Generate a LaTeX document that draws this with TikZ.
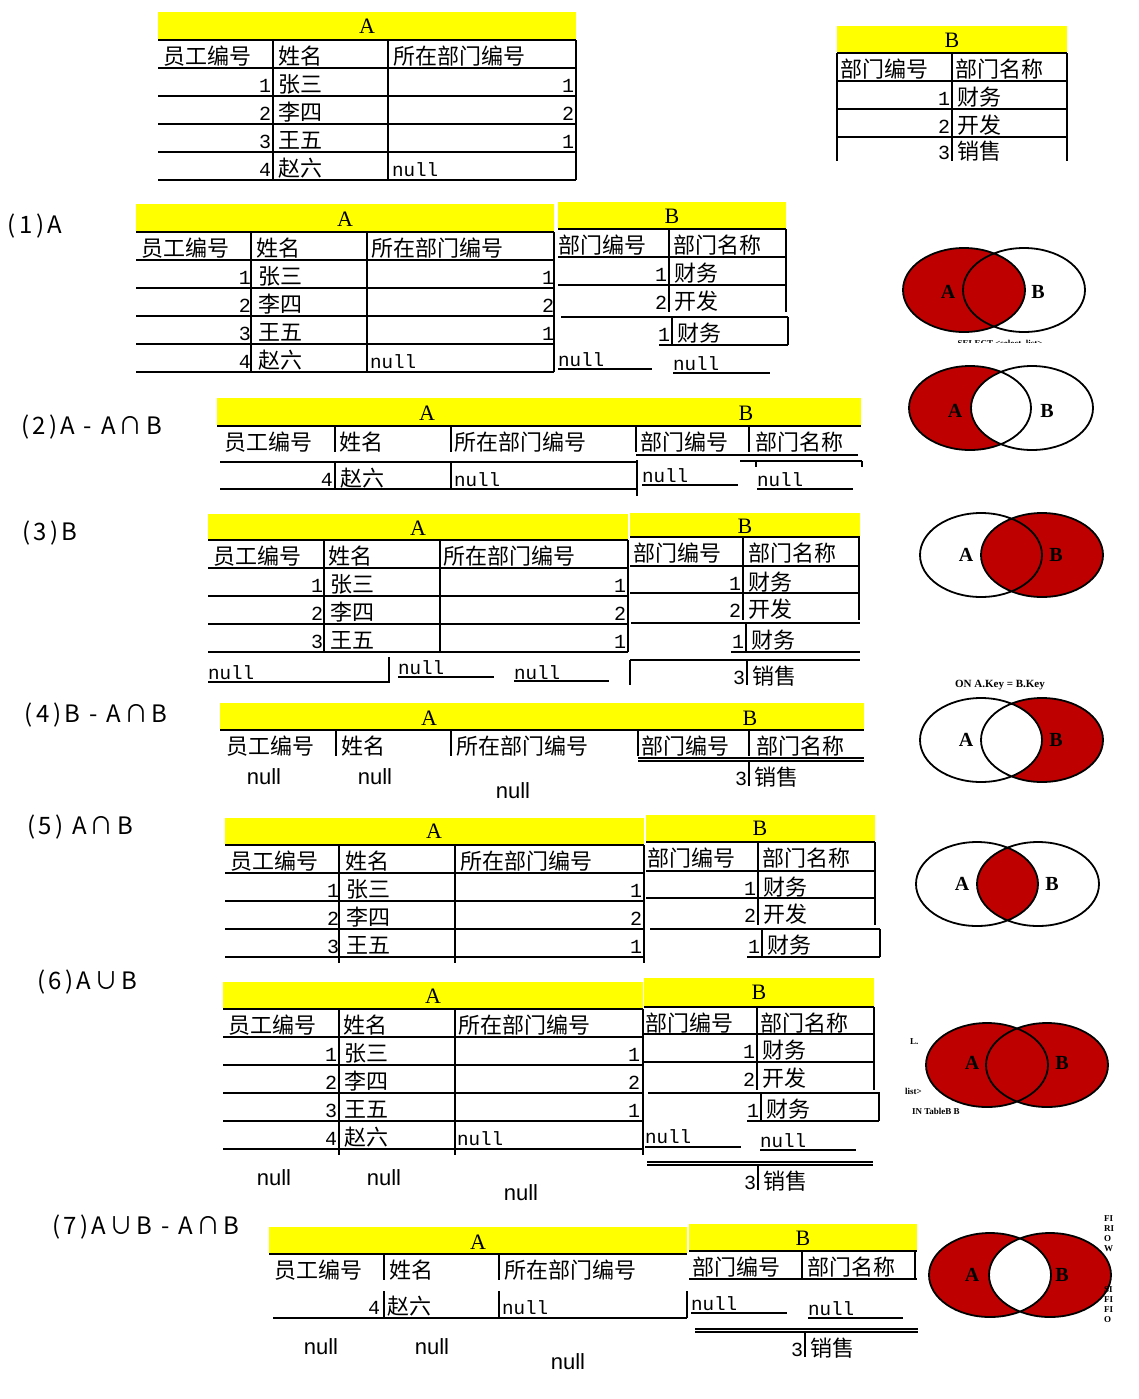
\documentclass[tikz,border=0pt]{standalone}
\usepackage{fontspec}
\setmainfont{Liberation Serif}
\newfontfamily\cjk{Noto Sans CJK SC}
\newfontfamily\lblfont[LetterSpace=14]{Noto Sans CJK SC}
\newfontfamily\monofnt{Liberation Mono}
\newfontfamily\sansfnt{Liberation Sans}
\definecolor{cellyellow}{RGB}{255,255,0}
\definecolor{vennred}{RGB}{190,0,0}

% header texts and rows of the two tables (pixel units, y downwards)
\newcommand\headA[3]{%
  \node[zhl] (#1h1) at (#2+5,#3+24) {员工编号};
  \node[zhl] (#1h2) at (#2+120,#3+24) {姓名};
  \node[zhl] (#1h3) at (#2+235,#3+24) {所在部门编号};}
\newcommand\headB[3]{%
  \node[zhl] (#1h4) at (#2+3,#3+24) {部门编号};
  \node[zhl] (#1h5) at (#2+118,#3+24) {部门名称};}
\newcommand\rowA[6]{%
  \node[numr] (#1n) at (#2+113,#3+24) {#4};
  \node[zhl] (#1w) at (#2+120,#3+24) {#5};
  \node[numr] (#1d) at (#2+416,#3+24) {#6};}
\newcommand\rowB[5]{%
  \node[numr] (#1n) at (#2-2,#3+24) {#4};
  \node[zhl] (#1w) at (#2+5,#3+24) {#5};}

\begin{document}
\begin{tikzpicture}[
  x=0.5pt,y=-0.5pt,
  every node/.style={inner sep=0pt,outer sep=0pt},
  yband/.style={fill=cellyellow},
  tline/.style={line width=0.9pt,black},
  ttl/.style={font=\fontsize{11}{12}\selectfont},
  zhl/.style={anchor=base west,font=\cjk\fontsize{11}{11}\selectfont},
  numr/.style={anchor=base east,font=\monofnt\fontsize{10}{10}\selectfont},
  nul/.style={anchor=base west,font=\monofnt\fontsize{9.6}{10}\selectfont},
  loose/.style={font=\sansfnt\fontsize{11}{11}\selectfont},
  lbl/.style={anchor=west,font=\lblfont\fontsize{12}{12}\selectfont},
  vfill/.style={fill=vennred},
  vline/.style={draw=black,line width=0.9pt},
  vsz/.style={x radius=30.5pt,y radius=21pt},
  vtxt/.style={font=\bfseries\fontsize{10}{10}\selectfont},
  frag/.style={font=\bfseries\fontsize{4.5}{5}\selectfont}
]
\path[use as bounding box] (0,0) rectangle (1139,1399);
\fill[white] (0,0) rectangle (1139,1399);

% tables A and B
\fill[yband] (158,12) rectangle (576,40);
\node[ttl] (t0A) at (367,26) {A};
\headA{t0}{158}{40}
\rowA{t0r1}{158}{68}{1}{张三}{1}
\rowA{t0r2}{158}{96}{2}{李四}{2}
\rowA{t0r3}{158}{124}{3}{王五}{1}
\rowA{t0r4}{158}{152}{4}{赵六}{}
\node[nul] (t0x) at (392,176) {null};
\foreach \y in {40,68,96,124,152,180} \draw[tline] (158,\y) -- (576,\y);
\foreach \x in {273,388,576} \draw[tline] (\x,40) -- (\x,180);

\fill[yband] (837,26) rectangle (1067,53);
\node[ttl] (t0B) at (952,40) {B};
\headB{t0}{837}{53}
\rowB{t0s1}{952}{81}{1}{财务}
\rowB{t0s2}{952}{109}{2}{开发}
\rowB{t0s3}{952}{135}{3}{销售}
\foreach \y in {53,81,109,137} \draw[tline] (837,\y) -- (1067,\y);
\foreach \x in {837,952,1067} \draw[tline] (\x,53) -- (\x,161);

% (1) A
\node[lbl] (l1) at (8,226) {(1)A};
\fill[yband] (136,204) rectangle (554,232);
\node[ttl] (s1A) at (345,219) {A};
\headA{s1}{136}{232}
\rowA{s1r1}{138}{260}{1}{张三}{1}
\rowA{s1r2}{138}{288}{2}{李四}{2}
\rowA{s1r3}{138}{316}{3}{王五}{1}
\rowA{s1r4}{138}{344}{4}{赵六}{}
\node[nul] (s1x0) at (370,368) {null};
\foreach \y in {232,260,288,316,344,372} \draw[tline] (136,\y) -- (554,\y);
\foreach \x in {251,367,554} \draw[tline] (\x,232) -- (\x,372);
\fill[yband] (558,202) rectangle (786,229);
\node[ttl] (s1B) at (672,216) {B};
\headB{s1}{555}{229}
\rowB{s1r5}{669}{257}{1}{财务}
\rowB{s1r6}{669}{285}{2}{开发}
\rowB{s1r7}{672}{317}{1}{财务}
\foreach \y in {229,257,285} \draw[tline] (558,\y) -- (786,\y);
\foreach \x in {669,786} \draw[tline] (\x,229) -- (\x,312);
\draw[tline] (561,317) -- (788,317) (659,345) -- (788,345);
\foreach \x in {672,788} \draw[tline] (\x,317) -- (\x,345);
\node[nul] (s1x1) at (558,366) {null};
\node[nul] (s1x2) at (673,370) {null};
\draw[tline] (558,369) -- (652,369) (673,373) -- (770,373);

\fill[vfill] (964,290) circle[vsz];
\draw[vline] (964,290) circle[vsz] (1024,290) circle[vsz];
\node[vtxt] (v1a) at (948,292) {A};
\node[vtxt] (v1b) at (1038,292) {B};
\begin{scope}
  \clip (900,334) rectangle (1100,342);
  \node[frag] (v1s) at (1000,344) {SELECT <select\_list>};
\end{scope}

% (2) A - A and B
\node[lbl] (l2) at (21,427) {(2)A - A∩B};
\fill[yband] (217,398) rectangle (861,426);
\node[ttl] (s2A) at (427,413) {A};
\node[ttl] (s2B) at (746,413) {B};
\draw[tline] (217,426) -- (861,426);
\headA{s2}{219}{426}
\headB{s2}{637}{426}
\foreach \x in {335,451,636,749} \draw[tline] (\x,426) -- (\x,452);
\draw[tline] (636,455) -- (858,455);
\rowA{s2r4}{220}{462}{4}{赵六}{}
\node[nul] (s2x0) at (454,486) {null};
\draw[tline] (220,462) -- (637,462) (220,489) -- (637,489);
\foreach \x in {335,451} \draw[tline] (\x,462) -- (\x,489);
\draw[tline] (637,460) -- (637,496);
\draw[tline] (740,461) -- (862,461);
\foreach \x in {756,862} \draw[tline] (\x,461) -- (\x,467);
\node[nul] (s2x1) at (642,482) {null};
\node[nul] (s2x2) at (757,486) {null};
\draw[tline] (642,485) -- (738,485) (757,489) -- (853,489);

\fill[vfill] (970,408) circle[vsz];
\fill[white] (1032,408) circle[vsz];
\draw[vline] (970,408) circle[vsz] (1032,408) circle[vsz];
\node[vtxt] (v2a) at (955,411) {A};
\node[vtxt] (v2b) at (1047,411) {B};

% (3) B
\node[lbl] (l3) at (22,533) {(3)B};
\fill[yband] (208,514) rectangle (628,540);
\node[ttl] (s3A) at (418,528) {A};
\headA{s3}{208}{540}
\rowA{s3r1}{210}{568}{1}{张三}{1}
\rowA{s3r2}{210}{596}{2}{李四}{2}
\rowA{s3r3}{210}{624}{3}{王五}{1}
\foreach \y in {540,568,596,624,652} \draw[tline] (208,\y) -- (628,\y);
\foreach \x in {324,440,628} \draw[tline] (\x,540) -- (\x,652);
\fill[yband] (630,513) rectangle (860,537);
\node[ttl] (s3B) at (745,526) {B};
\headB{s3}{630}{537}
\rowB{s3r5}{743}{566}{1}{财务}
\rowB{s3r6}{743}{593}{2}{开发}
\rowB{s3r7}{746}{624}{1}{财务}
\rowB{s3r8}{747}{660}{3}{销售}
\foreach \y in {537,566,593} \draw[tline] (630,\y) -- (860,\y);
\foreach \x in {743,859} \draw[tline] (\x,537) -- (\x,620);
\draw[tline] (631,623) -- (860,623) (731,652) -- (860,652) (746,623) -- (746,652);
\draw[tline] (630,660) -- (860,660) (630,660) -- (630,685) (747,660) -- (747,685);
\node[nul] (s3x1) at (208,679) {null};
\node[nul] (s3x2) at (398,674) {null};
\node[nul] (s3x3) at (514,679) {null};
\draw[tline] (208,682) -- (389,682) -- (389,657);
\draw[tline] (398,677) -- (494,677) (514,681) -- (609,681);

\fill[vfill] (1042,555) circle[vsz];
\draw[vline] (981,555) circle[vsz] (1042,555) circle[vsz];
\node[vtxt] (v3a) at (966,555) {A};
\node[vtxt] (v3b) at (1056,555) {B};

% (4) B - A and B
\node[lbl] (l4) at (25,715) {(4)B - A∩B};
\fill[yband] (220,703) rectangle (864,730);
\node[ttl] (s4A) at (429,718) {A};
\node[ttl] (s4B) at (750,718) {B};
\draw[tline] (220,730) -- (864,730);
\headA{s4}{221}{730}
\headB{s4}{638}{730}
\foreach \x in {336,451,638,749} \draw[tline] (\x,730) -- (\x,756);
\draw[tline] (638,758) -- (864,758) (638,761) -- (864,761);
\rowB{s4r1}{749}{761}{3}{销售}
\draw[tline] (749,761) -- (749,786);
\node[loose] (s4n1) at (264,777) {null};
\node[loose] (s4n2) at (375,777) {null};
\node[loose] (s4n3) at (513,791) {null};

\node[frag,font=\bfseries\fontsize{5.5}{6}\selectfont] (v4t) at (1000,685) {ON A.Key = B.Key};
\fill[vfill] (1042,740) circle[vsz];
\fill[white] (981,740) circle[vsz];
\draw[vline] (981,740) circle[vsz] (1042,740) circle[vsz];
\node[vtxt] (v4a) at (966,740) {A};
\node[vtxt] (v4b) at (1056,740) {B};

% (5) A and B
\node[lbl] (l5) at (27,827) {(5) A∩B};
\fill[yband] (225,818) rectangle (644,845);
\node[ttl] (s5A) at (434,831) {A};
\headA{s5}{225}{845}
\rowA{s5r1}{226}{873}{1}{张三}{1}
\rowA{s5r2}{226}{901}{2}{李四}{2}
\rowA{s5r3}{226}{929}{3}{王五}{1}
\foreach \y in {845,873,901,929,957} \draw[tline] (225,\y) -- (644,\y);
\foreach \x in {339,455,644} \draw[tline] (\x,845) -- (\x,963);
\fill[yband] (646,815) rectangle (875,842);
\node[ttl] (s5B) at (760,828) {B};
\headB{s5}{644}{842}
\rowB{s5r5}{758}{871}{1}{财务}
\rowB{s5r6}{758}{898}{2}{开发}
\rowB{s5r7}{762}{929}{1}{财务}
\foreach \y in {842,871,898} \draw[tline] (646,\y) -- (875,\y);
\foreach \x in {758,875} \draw[tline] (\x,842) -- (\x,925);
\draw[tline] (650,929) -- (880,929) (747,957) -- (880,957);
\foreach \x in {762,880} \draw[tline] (\x,929) -- (\x,957);

\begin{scope}
  \clip (977,884) circle[vsz];
  \fill[vfill] (1038,884) circle[vsz];
\end{scope}
\draw[vline] (977,884) circle[vsz] (1038,884) circle[vsz];
\node[vtxt] (v5a) at (962,884) {A};
\node[vtxt] (v5b) at (1052,884) {B};

% (6) A or B
\node[lbl] (l6) at (37,982) {(6)A∪B};
\fill[yband] (223,982) rectangle (643,1009);
\node[ttl] (s6A) at (433,996) {A};
\headA{s6}{223}{1009}
\rowA{s6r1}{224}{1037}{1}{张三}{1}
\rowA{s6r2}{224}{1065}{2}{李四}{2}
\rowA{s6r3}{224}{1093}{3}{王五}{1}
\rowA{s6r4}{224}{1121}{4}{赵六}{}
\node[nul] (s6x0) at (457,1145) {null};
\foreach \y in {1009,1037,1065,1093,1121,1149} \draw[tline] (223,\y) -- (643,\y);
\foreach \x in {339,455,643} \draw[tline] (\x,1009) -- (\x,1155);
\fill[yband] (644,978) rectangle (874,1007);
\node[ttl] (s6B) at (759,992) {B};
\headB{s6}{642}{1007}
\rowB{s6r5}{757}{1034}{1}{财务}
\rowB{s6r6}{757}{1062}{2}{开发}
\rowB{s6r7}{761}{1093}{1}{财务}
\rowB{s6r8}{758}{1165}{3}{销售}
\foreach \y in {1007,1034,1062} \draw[tline] (644,\y) -- (874,\y);
\foreach \x in {757,874} \draw[tline] (\x,1007) -- (\x,1090);
\draw[tline] (648,1093) -- (880,1093) (747,1121) -- (879,1121);
\foreach \x in {761,879} \draw[tline] (\x,1093) -- (\x,1121);
\node[nul] (s6x1) at (645,1143) {null};
\node[nul] (s6x2) at (760,1147) {null};
\draw[tline] (645,1147) -- (741,1147) (760,1150) -- (856,1150);
\draw[tline] (647,1162) -- (873,1162) (647,1165) -- (873,1165) (758,1165) -- (758,1190);
\node[loose] (s6n1) at (274,1178) {null};
\node[loose] (s6n2) at (384,1178) {null};
\node[loose] (s6n3) at (521,1193) {null};

\fill[vfill] (987,1065) circle[vsz] (1047,1065) circle[vsz];
\draw[vline] (987,1065) circle[vsz] (1047,1065) circle[vsz];
\node[vtxt] (v6a) at (972,1063) {A};
\node[vtxt] (v6b) at (1062,1063) {B};
\node[frag,anchor=west] (v6f1) at (910,1042) {L.};
\node[frag,anchor=west] (v6f2) at (905,1091) {list>};
\node[frag,anchor=west] (v6f3) at (912,1111) {IN TableB B};

% (7) A or B minus A and B
\node[lbl] (l7) at (52,1227) {(7)A∪B - A∩B};
\fill[yband] (269,1227) rectangle (687,1254);
\node[ttl] (s7A) at (478,1242) {A};
\draw[tline] (269,1254) -- (687,1254);
\headA{s7}{269}{1254}
\foreach \x in {384,499} \draw[tline] (\x,1254) -- (\x,1280);
\rowA{s7r4}{267}{1290}{4}{赵六}{}
\node[nul] (s7x0) at (502,1314) {null};
\foreach \x in {384,499,687} \draw[tline] (\x,1291) -- (\x,1318);
\draw[tline] (273,1318) -- (687,1318);
\fill[yband] (689,1224) rectangle (917,1251);
\node[ttl] (s7B) at (803,1238) {B};
\headB{s7}{689}{1251}
\draw[tline] (689,1251) -- (917,1251) (689,1279) -- (917,1279);
\foreach \x in {802,915} \draw[tline] (\x,1251) -- (\x,1279);
\node[nul] (s7x1) at (691,1310) {null};
\node[nul] (s7x2) at (808,1315) {null};
\draw[tline] (691,1313) -- (787,1313) (808,1318) -- (903,1318);
\draw[tline] (695,1329) -- (918,1329) (695,1332) -- (918,1332);
\rowB{s7r5}{805}{1332}{3}{销售}
\draw[tline] (805,1332) -- (805,1357);
\node[loose] (s7n1) at (321,1347) {null};
\node[loose] (s7n2) at (432,1347) {null};
\node[loose] (s7n3) at (568,1362) {null};

\fill[vfill] (990,1275) circle[vsz] (1050,1275) circle[vsz];
\begin{scope}
  \clip (990,1275) circle[vsz];
  \fill[white] (1050,1275) circle[vsz];
\end{scope}
\draw[vline] (990,1275) circle[vsz] (1050,1275) circle[vsz];
\node[vtxt] (v7a) at (972,1275) {A};
\node[vtxt] (v7b) at (1062,1275) {B};
\node[frag,anchor=north west,align=left] (v7f1) at (1104,1216) {FI\\RI\\O\\W};
\node[frag,anchor=north west,align=left] (v7f2) at (1104,1287) {SI\\FI\\FI\\O};
\end{tikzpicture}
\end{document}
